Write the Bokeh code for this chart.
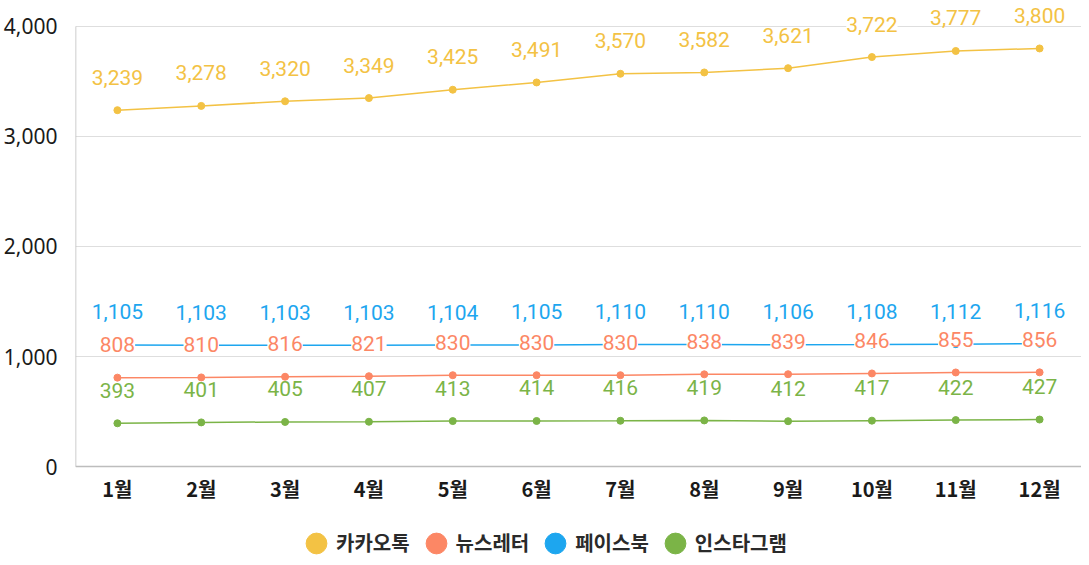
from bokeh.plotting import figure
from bokeh.models import (FactorRange, Range1d, ColumnDataSource, LabelSet, Legend, LegendItem,
                          FixedTicker, NumeralTickFormatter)
from bokeh.core.properties import value
from bokeh.embed import file_html
from bokeh.resources import INLINE

months = ["1월", "2월", "3월", "4월", "5월", "6월", "7월", "8월", "9월", "10월", "11월", "12월"]
series_names = ["카카오톡", "뉴스레터", "페이스북", "인스타그램"]
kakao = [3239, 3278, 3320, 3349, 3425, 3491, 3570, 3582, 3621, 3722, 3777, 3800]
newsletter = [808, 810, 816, 821, 830, 830, 830, 838, 839, 846, 855, 856]
facebook = [1105, 1103, 1103, 1103, 1104, 1105, 1110, 1110, 1106, 1108, 1112, 1116]
instagram = [393, 401, 405, 407, 413, 414, 416, 419, 412, 417, 422, 427]
y_ticks = [0, 1000, 2000, 3000, 4000]

colors = ["#F3C244", "#FC8765", "#1DA6EF", "#7BB447"]
all_values = [kakao, newsletter, facebook, instagram]

NUM_FONT = "Roboto"
CJK_FONT = "Noto Sans CJK KR"

p = figure(width=1081, height=557,
           x_range=FactorRange(factors=months, range_padding=0),
           y_range=Range1d(-827, 4236),
           output_backend="svg", toolbar_location=None,
           min_border_left=68, min_border_top=0, min_border_right=0, min_border_bottom=0,
           outline_line_color=None, background_fill_color="white")

p.xgrid.grid_line_color = None
p.ygrid.grid_line_color = "#DEDEDE"
p.ygrid.grid_line_width = 1
p.yaxis.ticker = FixedTicker(ticks=y_ticks)
p.ygrid.ticker = FixedTicker(ticks=y_ticks)
p.yaxis.formatter = NumeralTickFormatter(format="0,0")
p.yaxis.axis_line_color = None
p.yaxis.major_tick_line_color = None
p.yaxis.minor_tick_line_color = None
p.yaxis.major_label_text_font = "Noto Sans"
p.yaxis.major_label_text_font_size = "21px"
p.yaxis.major_label_text_color = "#1a1a1a"
p.yaxis.major_label_standoff = 12

p.xaxis.fixed_location = 0
p.xaxis.axis_line_color = "#BDBDBD"
p.xaxis.axis_line_width = 1.5
p.xaxis.major_tick_line_color = None
p.xaxis.minor_tick_line_color = None
p.xaxis.major_label_text_font = CJK_FONT
p.xaxis.major_label_text_font_style = "bold"
p.xaxis.major_label_text_font_size = "20px"
p.xaxis.major_label_text_color = "#1a1a1a"
p.xaxis.major_label_standoff = 1

# left axis line from 0 to 4000
p.segment(x0=[(months[0], -0.5)], y0=[y_ticks[0]], x1=[(months[0], -0.5)], y1=[y_ticks[-1]],
          line_color="#BDBDBD", line_width=1.5)

renderers = []
for name, vals, col in zip(series_names, all_values, colors):
    src = ColumnDataSource(dict(x=months, y=vals, lab=[f"{v:,}" for v in vals]))
    p.line("x", "y", source=src, line_color=col, line_width=1.5)
    dots = p.ellipse("x", "y", source=src, width=7, height=7,
                     width_units="screen", height_units="screen",
                     fill_color=col, line_color=col)
    renderers.append((name, dots, src, col))

for name, dots, src, col in renderers:
    labels = LabelSet(x="x", y="y", text="lab", source=src, y_offset=33,
                      text_align="center", text_baseline="middle",
                      text_font=value(NUM_FONT), text_font_size="21px", text_color=col,
                      background_fill_color="white")
    p.add_layout(labels)

legend_items = [LegendItem(label=name, renderers=[dots]) for name, dots, src, col in renderers]

legend = Legend(items=legend_items, orientation="horizontal", location=(228, 0),
                glyph_width=26, glyph_height=26, label_text_font=CJK_FONT,
                label_text_font_style="bold", label_text_font_size="20px",
                label_text_color="#2a2a2a", spacing=13, padding=0, margin=0,
                border_line_color=None, background_fill_alpha=0, label_standoff=7)
p.add_layout(legend, "center")

open("out.html", "w").write(file_html(p, INLINE))
